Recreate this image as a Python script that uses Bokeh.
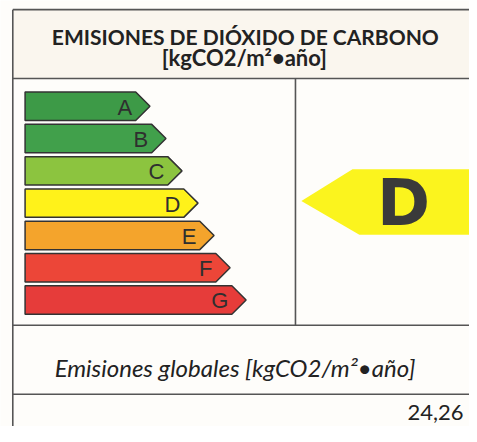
from bokeh.plotting import figure
from bokeh.models import Range1d, ColumnDataSource
from bokeh.core.properties import value
from bokeh.embed import file_html
from bokeh.resources import INLINE

# ---- data ----
title_line1 = "EMISIONES DE DIÓXIDO DE CARBONO"
title_line2 = "[kgCO2/m²•año]"
classes = ["A", "B", "C", "D", "E", "F", "G"]
class_colors = ["#3d9a47", "#41a04b", "#8cc43f", "#fff21a", "#f4a42c", "#ec4638", "#e63c3a"]
rating = "D"
rating_color = "#fbf41e"
global_label = "Emisiones globales [kgCO2/m²•año]"
global_value = "24,26"

# ---- figure: data coords = reference pixel coords (y down) ----
p = figure(width=469, height=426, x_range=Range1d(0, 477), y_range=Range1d(442, 0),
           output_backend="svg", toolbar_location=None, min_border=0)
p.axis.visible = False
p.grid.visible = False
p.outline_line_color = None
p.background_fill_color = "#fefdfa"
p.border_fill_color = "#ffffff"

# header background
p.quad(left=12.5, right=480, top=9.5, bottom=81, fill_color="#faf6ee", line_color=None)

# class bars
xs, ys, lx, ly = [], [], [], []
for i, c in enumerate(classes):
    y0 = 95 + i * 33.5
    y1 = y0 + 29.5
    tip = 152 + i * 16.3
    body = tip - 14.5
    xs.append([25, body, tip, body, 25])
    ys.append([y0, y0, (y0 + y1) / 2, y1, y1])
    lx.append(tip - 18)
    ly.append((y0 + y1) / 2 + 1)
src = ColumnDataSource(dict(xs=xs, ys=ys, color=class_colors, lx=lx, ly=ly, label=classes))
p.patches("xs", "ys", source=src, fill_color="color", line_color="#333333", line_width=1.5)
p.text(x="lx", y="ly", text="label", source=src, text_align="right", text_baseline="middle",
       text_font=value("Liberation Sans"), text_font_size="22px", text_color="#2f2f2f")

# rating arrow
p.patch([306, 358, 480, 480, 365], [208, 175, 175, 243, 243], fill_color=rating_color, line_color=None)
p.text(x=[410], y=[210], text=[rating], text_align="center", text_baseline="middle",
       text_font=value("DejaVu Sans"), text_font_style="bold", text_font_size="64px",
       text_color="#3a3a3a")

# table lines
lc = "#555555"
p.segment(x0=[12.5, 12.5, 12.5, 12.5, 12.5, 300], y0=[9.5, 9.5, 81, 337, 408.5, 81],
          x1=[12.5, 480, 480, 480, 480, 300], y1=[445, 9.5, 81, 337, 408.5, 337],
          line_color=lc, line_width=1.6)

# texts
p.text(x=[249], y=[37], text=[title_line1], text_align="center",
       text_baseline="alphabetic", text_font=value("Lato"), text_font_style="bold",
       text_font_size="21px", text_color="#222222")
p.text(x=[248], y=[59], text=[title_line2], text_align="center",
       text_baseline="alphabetic", text_font=value("Lato"), text_font_style="bold",
       text_font_size="22px", text_color="#222222")
p.text(x=[238.5], y=[381], text=[global_label], text_align="center", text_baseline="alphabetic",
       text_font=value("Lato"), text_font_style="italic", text_font_size="24px", text_color="#222222")
p.text(x=[471], y=[427], text=[global_value], text_align="right", text_baseline="alphabetic",
       text_font=value("Lato"), text_font_size="22px", text_color="#222222")

open("out.html", "w").write(file_html(p, INLINE))
